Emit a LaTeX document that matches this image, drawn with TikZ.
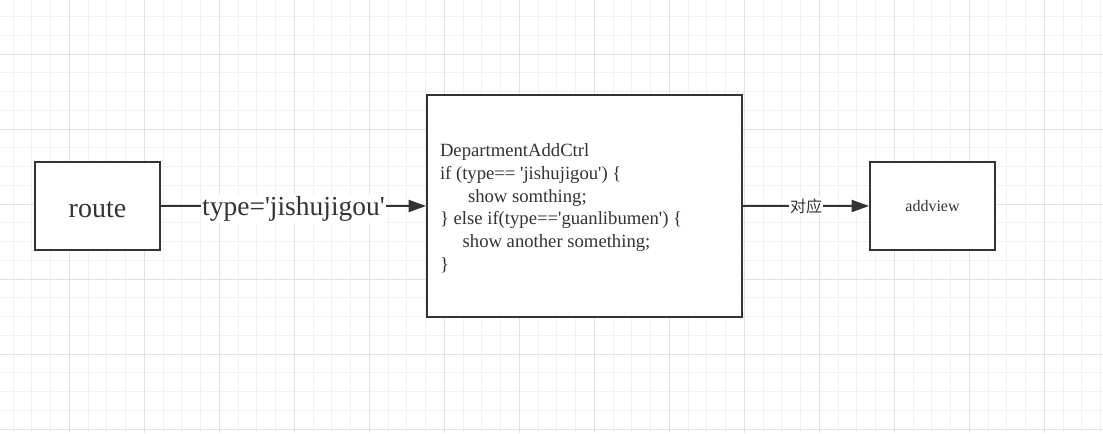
\documentclass[tikz,border=0pt]{standalone}
\usepackage{fontspec}
\setmainfont{Liberation Serif}
\newfontfamily\cjk{Noto Sans CJK SC}
\usetikzlibrary{arrows.meta}
\definecolor{ink}{HTML}{333333}
\definecolor{gridminor}{HTML}{F1F1F1}
\definecolor{gridmajor}{HTML}{E2E2E2}
\newcommand{\sq}{\textquotesingle}
\tikzset{
 box/.style={draw=ink,line width=1.5pt,fill=white,text=ink},
 link/.style={draw=ink,line width=1.5pt,-{Triangle[length=13pt,width=9pt]}},
 lbl/.style={fill=white,text=ink,inner sep=1pt}
}

\begin{document}
\begin{tikzpicture}[x=0.75pt,y=-0.75pt]

\useasboundingbox (0,0) rectangle (1103,433);
\fill[white] (0,0) rectangle (1103,433);

 \foreach \i in {0,...,58}
 {\draw[gridminor,line width=0.75pt] ({13.05+18.75*\i},0) -- ++(0,433);}
 \foreach \j in {0,...,23}
 {\draw[gridminor,line width=0.75pt] (0,{-2.25+18.75*\j}) -- ++(1103,0);}
 \foreach \i in {0,...,14}
 {\draw[gridmajor,line width=0.75pt] ({-5.7+75*\i},0) -- ++(0,433);}
 \foreach \j in {0,...,5}
 {\draw[gridmajor,line width=0.75pt] (0,{54+75*\j}) -- ++(1103,0);}

\node[box,minimum width=93.75pt,minimum height=66pt,text height=16.5pt,text depth=0pt,
 font=\fontsize{21}{25}\selectfont] (route) at (97.5,206) {route};
\node[box,minimum width=236.25pt,minimum height=166.5pt,text width=216.75pt,
 inner xsep=9.75pt,align=flush left,font=\fontsize{14}{17.1}\selectfont]
 (ctrl) at (584.5,206) {\rule{0pt}{13pt}DepartmentAddCtrl\\
 if (type== \sq jishujigou\sq) \{\\
 \hspace*{21pt}show somthing;\\
 \} else if(type==\sq guanlibumen\sq) \{\\
 \hspace*{17pt}show another something;\\
 \}};
\node[box,minimum width=93.75pt,minimum height=66pt,font=\fontsize{12}{14}\selectfont]
 (addview) at (932.5,206) {addview};

\draw[link] (route) -- node[lbl,yshift=-2.25pt,font=\fontsize{20.6}{24}\selectfont]
 {type=\sq jishujigou\sq} (ctrl);
\draw[link] (ctrl) -- node[lbl,font=\cjk\fontsize{12}{14}\selectfont] {对应} (addview);

\end{tikzpicture}
\end{document}
